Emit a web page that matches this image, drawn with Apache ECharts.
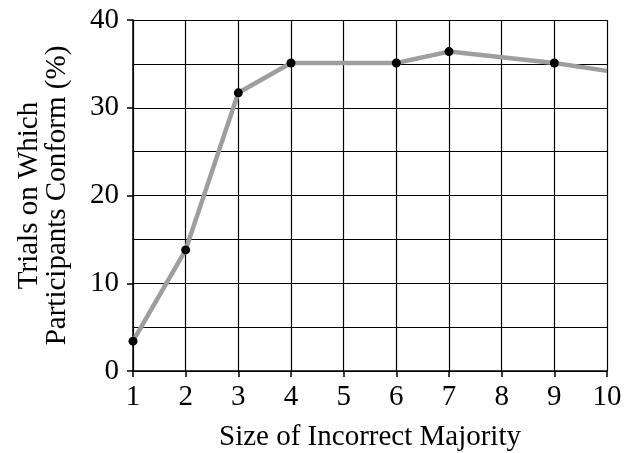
<!DOCTYPE html>
<html>
<head>
<meta charset="utf-8">
<script src="https://cdn.jsdelivr.net/npm/echarts@6/dist/echarts.min.js"></script>
<style>html,body{margin:0;padding:0;background:#fff}#c{width:627px;height:453px}</style>
</head>
<body>
<div id="c"></div>
<script>
var majoritySize = [1, 2, 3, 4, 6, 7, 9, 10];
var conformPct = [3.4, 13.8, 31.7, 35.1, 35.1, 36.4, 35.1, 34.2];
var markerShown = [true, true, true, true, true, true, true, false];
var xTitle = 'Size of Incorrect Majority';
var yTitle = 'Trials on Which\nParticipants Conform (%)';

var font = "'Liberation Serif', 'Times New Roman', serif";
var data = majoritySize.map(function (x, i) {
  return { value: [x, conformPct[i]], symbol: markerShown[i] ? 'circle' : 'none' };
});
var chart = echarts.init(document.getElementById('c'));
chart.setOption({
  animation: false,
  backgroundColor: '#fff',
  grid: { left: 133, right: 20, top: 20, bottom: 82, containLabel: false, outerBoundsMode: 'none' },
  xAxis: {
    type: 'value', min: 1, max: 10, interval: 1,
    name: xTitle, nameLocation: 'middle', nameGap: 52,
    nameTextStyle: { fontFamily: font, fontSize: 29, color: '#000' },
    axisLine: { lineStyle: { color: '#000', width: 1.5 } },
    axisTick: { show: true, length: 6, lineStyle: { color: '#000', width: 1.5 } },
    axisLabel: { fontFamily: font, fontSize: 29, color: '#000', margin: 12 },
    splitLine: { show: true, lineStyle: { color: '#000', width: 1.2 } }
  },
  yAxis: {
    type: 'value', min: 0, max: 40, interval: 10,
    name: yTitle, nameLocation: 'middle', nameGap: 62, nameRotate: 90,
    nameTextStyle: { fontFamily: font, fontSize: 29, color: '#000', lineHeight: 28 },
    axisLine: { show: true, lineStyle: { color: '#000', width: 1.5 } },
    axisTick: { show: true, length: 6, lineStyle: { color: '#000', width: 1.5 } },
    axisLabel: { fontFamily: font, fontSize: 29, color: '#000', margin: 14 },
    splitLine: { show: true, lineStyle: { color: '#000', width: 1.2 } },
    minorTick: { show: false, splitNumber: 2 },
    minorSplitLine: { show: true, lineStyle: { color: '#000', width: 1.2 } }
  },
  series: [{
    type: 'line',
    data: data,
    symbolSize: 9,
    itemStyle: { color: '#000' },
    lineStyle: { color: '#9e9e9e', width: 4.5 },
    z: 5
  }]
});
</script>
</body>
</html>
